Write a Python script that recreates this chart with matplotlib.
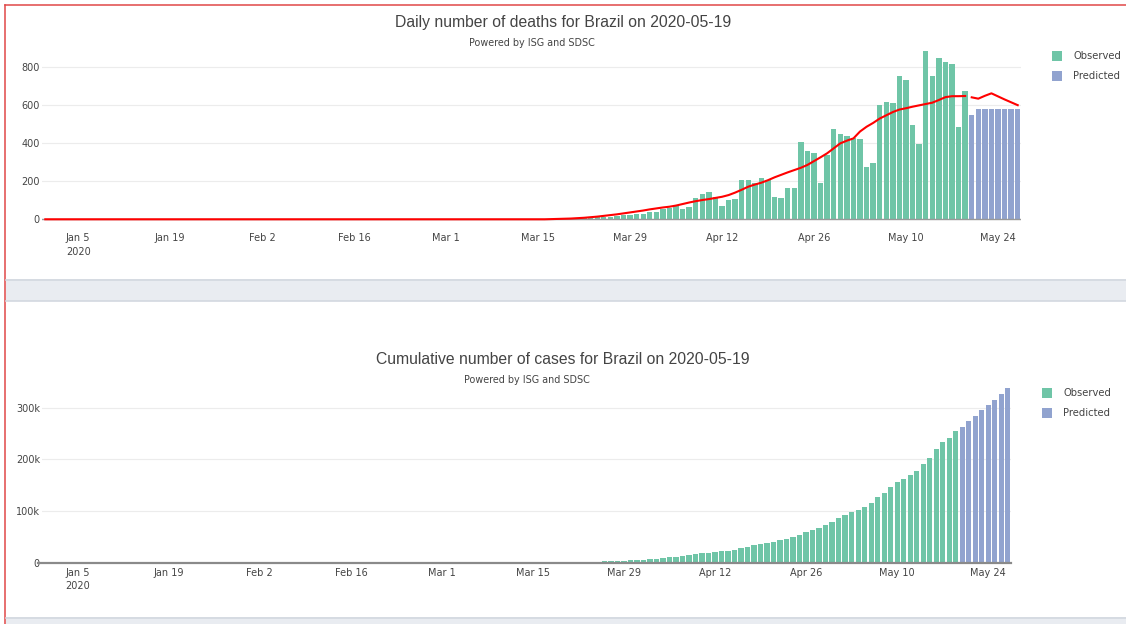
import pandas as pd
import matplotlib
matplotlib.use('Agg')
import matplotlib.pyplot as plt
from matplotlib.patches import Rectangle
from matplotlib.lines import Line2D

W, H = 1126, 624

# observed window and forecast window
obs_start, obs_end = '2019-12-31', '2020-05-19'
pred_start, pred_end = '2020-05-20', '2020-05-27'

# daily deaths (zeros before deaths_start)
deaths_start = '2020-03-18'
deaths_obs = [1, 2, 3, 4, 7, 9, 12, 11, 14, 17, 21, 24, 26, 30,
              37, 38, 52, 57, 70, 52, 66, 114, 133, 141, 115, 68, 99, 105, 204,
              204, 188, 217, 206, 115, 113, 166, 165, 407, 357, 346, 189, 338,
              474, 449,
              435, 428, 421, 275, 296, 600, 615, 610, 751, 730, 496, 396, 881,
              749, 844, 824, 816, 485, 674]
deaths_pred = [545, 578, 578, 578, 578, 578, 578, 578]

# fitted curve through the daily deaths
trend_start = '2020-03-15'
trend_obs = [0, 0, 1, 2, 3, 4, 6, 8, 11, 14, 18, 22, 26, 31, 36, 41, 46,
             52, 57, 62, 66, 72, 80, 88, 95, 101, 106, 112, 118, 127, 140, 155,
             171, 182, 192, 205, 220, 233, 246, 258, 270, 285, 305, 325, 346,
             372, 398,
             412, 424, 460, 485, 505, 528, 545, 562, 575, 582, 590, 597, 604,
             611, 625, 640, 645, 645, 646]
trend_pred = [639, 632, 647, 660, 644, 628, 613, 598]

# cumulative confirmed cases (zeros before cases_start)
cases_start = '2020-02-27'
cases_obs = [1, 1, 1, 2, 2, 2, 2, 4, 4, 13, 13, 20, 25, 31, 38, 52, 151, 151,
             162, 200, 321, 372, 621, 793, 1021, 1546, 1924, 2247, 2554, 2985,
             3417, 3904, 4256, 4579, 5717, 6836, 8044, 9056, 10360, 11130,
             12161, 14034, 16170, 18092, 19638, 20727, 22192, 23430, 25262,
             28320, 30425, 33682, 36658, 38654, 40743, 43079, 45757, 50036,
             54043, 59324, 63100, 67446, 73235, 79685, 87187, 92202, 97100,
             101826, 108620, 115455, 126611, 135773, 146894, 156061, 162699,
             169594, 178214, 190137, 203165, 220291, 233511, 241080, 255368]
cases_pred = [262000, 273700, 284600, 295000, 305900, 315600, 326000, 337600]

GREEN = '#6fc5a7'
BLUE = '#91a3cf'
TXT = '#444444'
TITLE_FONT = ['Liberation Sans Narrow', 'Liberation Sans', 'DejaVu Sans']

obs_dates = pd.date_range(obs_start, obs_end)
pred_dates = pd.date_range(pred_start, pred_end)


def padded(values, start):
    s = pd.Series(values, index=pd.date_range(start, periods=len(values)))
    return s.reindex(obs_dates, fill_value=0)


def box(left, top, right, bottom):
    return [left / W, 1 - bottom / H, (right - left) / W, (bottom - top) / H]


def px(x, y):
    return x / W, 1 - y / H


fig = plt.figure(figsize=(W / 100, H / 100), dpi=100)
fig.patch.set_facecolor('white')

# page frame and the grey separators between the panels
fig.add_artist(Line2D([5 / W, 1], [1 - 4.5 / H] * 2, color='#e04848', lw=1.1))
fig.add_artist(Line2D([5 / W] * 2, [0, 1 - 4.5 / H], color='#e04848', lw=1.1))
for top, bot in [(279, 301), (617, 630)]:
    fig.add_artist(Rectangle(px(6, bot), (W - 6) / W, (bot - top) / H,
                             facecolor='#e9ecf1', edgecolor='none'))
    fig.add_artist(Line2D([6 / W, 1], [1 - (top + 0.5) / H] * 2, color='#d3d8e0', lw=1.2))
    fig.add_artist(Line2D([6 / W, 1], [1 - (bot - 0.5) / H] * 2, color='#d3d8e0', lw=1.2))

tick_dates = pd.date_range('2020-01-05', periods=11, freq='14D')
tick_labels = [f'{d:%b} {d.day}' for d in tick_dates]
tick_labels[0] += '\n2020'


def style_axis(ax, yticks, ylabels, xpad):
    for s in ax.spines.values():
        s.set_visible(False)
    ax.set_xlim(obs_dates[0] - pd.Timedelta(hours=12), pred_dates[-1] + pd.Timedelta(hours=12))
    ax.set_xticks(tick_dates)
    ax.set_xticklabels(tick_labels, linespacing=1.45)
    ax.set_yticks(yticks)
    ax.set_yticklabels(ylabels)
    ax.tick_params(length=0, labelsize=7, colors=TXT)
    ax.tick_params(axis='x', pad=xpad)
    ax.tick_params(axis='y', pad=1.5)
    ax.grid(axis='y', color='#ececec', lw=0.8)
    ax.set_axisbelow(True)


def legend(x, y):
    for i, (name, c) in enumerate([('Observed', GREEN), ('Predicted', BLUE)]):
        yy = y + 20 * i
        fig.add_artist(Rectangle(px(x, yy + 5), 10 / W, 10 / H, facecolor=c, edgecolor='none'))
        fig.text(*px(x + 21, yy), name, fontsize=7.2, color=TXT, va='center', ha='left')


def titles(title, y, sub_x, sub_y):
    fig.text(*px(563, y), title, fontsize=11.35, color=TXT, ha='center', va='center',
             family=TITLE_FONT)
    fig.text(*px(sub_x, sub_y), 'Powered by ISG and SDSC', fontsize=6.9, color=TXT,
             ha='center', va='center')


# daily deaths panel
ax1 = fig.add_axes(box(42, 42.4, 1021, 228.5))
deaths = padded(deaths_obs, deaths_start)
trend = padded(trend_obs, trend_start)
ax1.bar(obs_dates, deaths.values, width=0.82, color=GREEN, zorder=2)
ax1.bar(pred_dates, deaths_pred, width=0.82, color=BLUE, zorder=2)
ax1.axhline(0, color='#999999', lw=1.0, zorder=2.5)
ax1.plot(obs_dates, trend.values, color='red', lw=1.5, zorder=3)
ax1.plot(pred_dates, trend_pred, color='red', lw=1.5, zorder=3)
top1 = max(deaths.max(), max(deaths_pred)) * 1.052
ax1.set_ylim(-0.052 * top1, top1)
style_axis(ax1, [0, 200, 400, 600, 800], ['0', '200', '400', '600', '800'], 3.2)
titles('Daily number of deaths for Brazil on 2020-05-19', 23, 532, 43)
legend(1052, 56)

# cumulative cases panel
ax2 = fig.add_axes(box(42, 380.3, 1011, 562.7))
cases = padded(cases_obs, cases_start)
ax2.bar(obs_dates, cases.values, width=0.82, color=GREEN, zorder=2)
ax2.bar(pred_dates, cases_pred, width=0.82, color=BLUE, zorder=2)
ax2.axhline(0, xmin=-0.004, color='#8a8a8a', lw=1.6, zorder=3, clip_on=False)
ax2.set_ylim(0, max(cases_pred) * 1.045)
style_axis(ax2, [0, 100000, 200000, 300000], ['0', '100k', '200k', '300k'], 3.6)
titles('Cumulative number of cases for Brazil on 2020-05-19', 360, 527, 380)
legend(1042, 393)

fig.savefig('out.png', dpi=100, facecolor='white')
